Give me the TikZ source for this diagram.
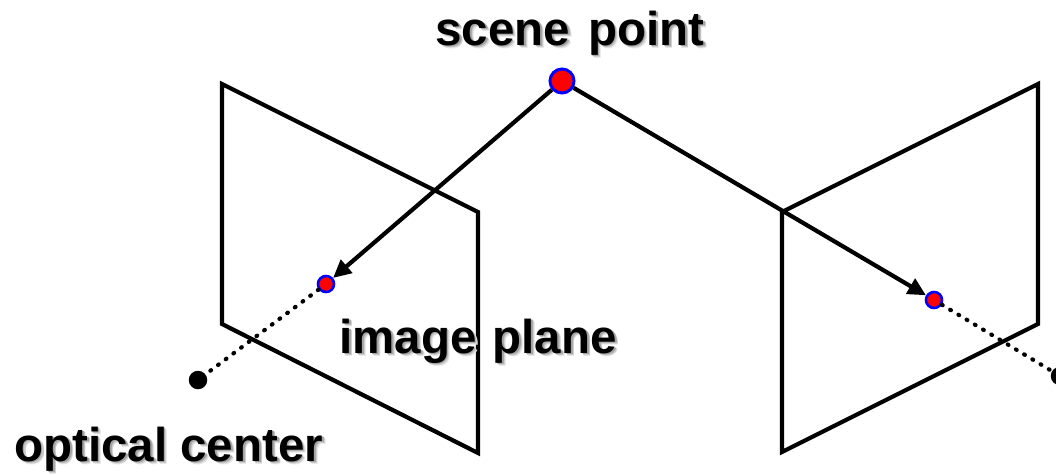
\documentclass[tikz,border=0pt]{standalone}
\usepackage{fontspec}
\setmainfont{Liberation Sans}
\usetikzlibrary{arrows.meta}
\newcommand{\shadowed}[1]{\leavevmode
  \rlap{\kern3.6pt\raisebox{-3.6pt}{\textcolor{black!9}{#1}}}%
  \rlap{\kern2.8pt\raisebox{-2.8pt}{\textcolor{black!20}{#1}}}%
  \rlap{\kern1.8pt\raisebox{-1.8pt}{\textcolor{black!36}{#1}}}#1}
\tikzset{
  x=1pt,y=-1pt,
  lbl/.style={inner sep=0pt,font=\fontsize{47.5}{50}\selectfont\bfseries,anchor=base west},
  plane/.style={draw=black,line width=4.2pt,line join=miter},
  scenept/.style={circle,draw=blue,fill=red,line width=3pt,minimum size=24pt,inner sep=0pt},
  imgpt/.style={circle,draw=blue,fill=red,line width=2.6pt,minimum size=16pt,inner sep=0pt},
  center/.style={circle,fill=black,minimum size=18.5pt,inner sep=0pt},
  ray/.style={draw=black,line width=4.2pt,-{Triangle[length=18pt,width=17pt]}},
  dots/.style={draw=black,line width=4.2pt,line cap=round,dash pattern=on 0.8pt off 8.8pt},
}
\begin{document}
\begin{tikzpicture}
\useasboundingbox (0,0) rectangle (1056,474);
\clip (0,0) rectangle (1056,474);
\draw[plane] (222,84) -- (478,212) -- (478,453) -- (222,324) -- cycle;
\draw[plane] (1038,84) -- (782,212) -- (782,452) -- (1038,324) -- cycle;
\node[scenept] (S) at (562,81) {};
\node[imgpt] (L) at (326,284) {};
\node[imgpt] (R) at (934,300) {};
\node[center] (CL) at (198,380) {};
\node[center] (CR) at (1060,376) {};
\draw[ray] (S) -- (L);
\draw[ray] (S) -- (R);
\draw[dots] (L) -- (CL);
\draw[dots] (R) -- (CR);
\node[lbl] (t1) at (435,45) {\spaceskip=0.385em\shadowed{scene point}};
\node[lbl] (t2) at (339,353) {\spaceskip=0.34em\shadowed{image plane}};
\node[lbl] (t3) at (14,461) {\shadowed{optical center}};
\end{tikzpicture}
\end{document}
